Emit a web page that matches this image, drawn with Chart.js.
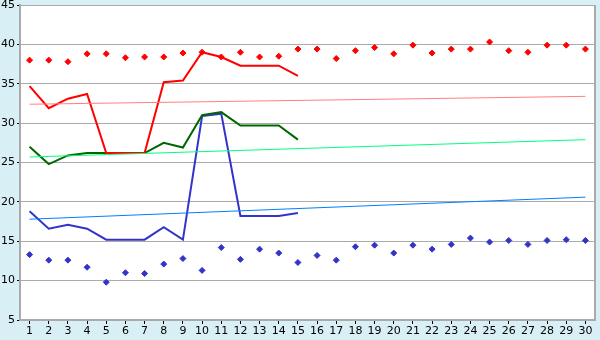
<!DOCTYPE html>
<html>
<head>
<meta charset="utf-8">
<script src="https://cdn.jsdelivr.net/npm/chart.js@4/dist/chart.umd.min.js"></script>
<style>
  html, body { margin: 0; padding: 0; background: #d9eff6; }
  #wrap { width: 600px; height: 340px; }
</style>
</head>
<body>
<div id="wrap"><canvas id="chart-one" width="600" height="340"></canvas></div>
<script>
const days = ['1','2','3','4','5','6','7','8','9','10','11','12','13','14','15',
  '16','17','18','19','20','21','22','23','24','25','26','27','28','29','30'];

// top row of points (red)
const highPoints = [38.0, 38.0, 37.8, 38.8, 38.8, 38.3, 38.4, 38.4, 38.9, 39.0,
  38.4, 39.0, 38.4, 38.5, 39.4, 39.4, 38.2, 39.2, 39.6, 38.8,
  39.9, 38.9, 39.4, 39.4, 40.3, 39.2, 39.0, 39.9, 39.9, 39.4];
// bottom row of points (blue)
const lowPoints = [13.3, 12.6, 12.6, 11.7, 9.8, 11.0, 10.9, 12.1, 12.8, 11.3,
  14.2, 12.7, 14.0, 13.5, 12.3, 13.2, 12.6, 14.3, 14.5, 13.5,
  14.5, 14.0, 14.6, 15.4, 14.9, 15.1, 14.6, 15.1, 15.2, 15.1];

// the three lines, days 1-15
const redLine = [34.7, 31.9, 33.1, 33.7, 26.2, 26.2, 26.2, 35.2, 35.4, 39.0,
  38.4, 37.3, 37.3, 37.3, 36.0];
const greenLine = [27.0, 24.8, 25.9, 26.2, 26.2, 26.2, 26.2, 27.5, 26.9, 31.0,
  31.4, 29.7, 29.7, 29.7, 27.9];
const blueLine = [18.8, 16.6, 17.1, 16.6, 15.2, 15.2, 15.2, 16.8, 15.2, 30.9,
  31.2, 18.2, 18.2, 18.2, 18.6];

// trend lines: value at day 1 and day 30
const redTrend = [32.4, 33.4];
const greenTrend = [25.7, 27.9];
const blueTrend = [17.8, 20.6];

const yTicks = [5, 10, 15, 20, 25, 30, 35, 40, 45];

function trend(vals) {
  return [{ x: days[0], y: vals[0] }, { x: days[days.length - 1], y: vals[1] }];
}

const frame = {
  id: 'frame',
  beforeDraw(chart) {
    const { ctx, chartArea: a } = chart;
    ctx.save();
    ctx.fillStyle = '#d9eff6';
    ctx.fillRect(0, 0, chart.width, chart.height);
    ctx.fillStyle = '#ffffff';
    ctx.fillRect(a.left, a.top, a.right - a.left, a.bottom - a.top);
    ctx.restore();
  },
  afterDraw(chart) {
    const { ctx, chartArea: a } = chart;
    ctx.save();
    ctx.strokeStyle = '#aaaaaa';
    ctx.lineWidth = 2;
    ctx.beginPath();
    ctx.moveTo(a.right, a.top);
    ctx.lineTo(a.right, a.bottom);
    ctx.stroke();
    ctx.restore();
  }
};

const ctx = document.getElementById('chart-one');

const pointSet = (data, color) => ({
  data: data, showLine: false, pointStyle: 'rectRot', pointRadius: 3,
  pointBackgroundColor: color, pointBorderColor: color, borderColor: color
});
const lineSet = (data, color, w) => ({
  data: data, borderColor: color, borderWidth: w, pointRadius: 0, fill: false, tension: 0
});

new Chart(ctx, {
  type: 'line',
  data: {
    labels: days,
    datasets: [
      lineSet(trend(redTrend), '#ff8080', 1),
      lineSet(trend(greenTrend), '#00ff80', 1),
      lineSet(trend(blueTrend), '#0080ff', 1),
      pointSet(highPoints, '#ff0000'),
      pointSet(lowPoints, '#3333cc'),
      lineSet(redLine, '#ff0000', 2),
      lineSet(greenLine, '#006600', 2),
      lineSet(blueLine, '#3333cc', 2)
    ]
  },
  options: {
    responsive: false,
    animation: false,
    layout: { padding: { top: 0, right: 5, left: 0, bottom: 0 } },
    plugins: { legend: { display: false }, tooltip: { enabled: false } },
    scales: {
      x: {
        offset: true,
        grid: { drawOnChartArea: false, offset: false, tickLength: 4, color: '#aaaaaa', tickColor: '#000000' },
        border: { color: '#aaaaaa', width: 2 },
        ticks: { color: '#000000', padding: 2, maxRotation: 0, autoSkip: false,
          font: { family: 'DejaVu Sans', size: 11, lineHeight: 1 } },
        afterFit(scale) { scale.height = 20; }
      },
      y: {
        min: yTicks[0], max: yTicks[yTicks.length - 1],
        afterBuildTicks(scale) { scale.ticks = yTicks.map(v => ({ value: v })); },
        grid: { color: '#aaaaaa', lineWidth: 1, tickLength: 3, tickColor: '#000000' },
        border: { color: '#aaaaaa', width: 2 },
        ticks: { color: '#000000', padding: 2,
          font: { family: 'DejaVu Sans', size: 11, lineHeight: 1 } },
        afterFit(scale) {
          scale.width = 20;
          scale.paddingTop = 5;
          scale.paddingBottom = 0;
        }
      }
    }
  },
  plugins: [frame]
});
</script>
</body>
</html>
